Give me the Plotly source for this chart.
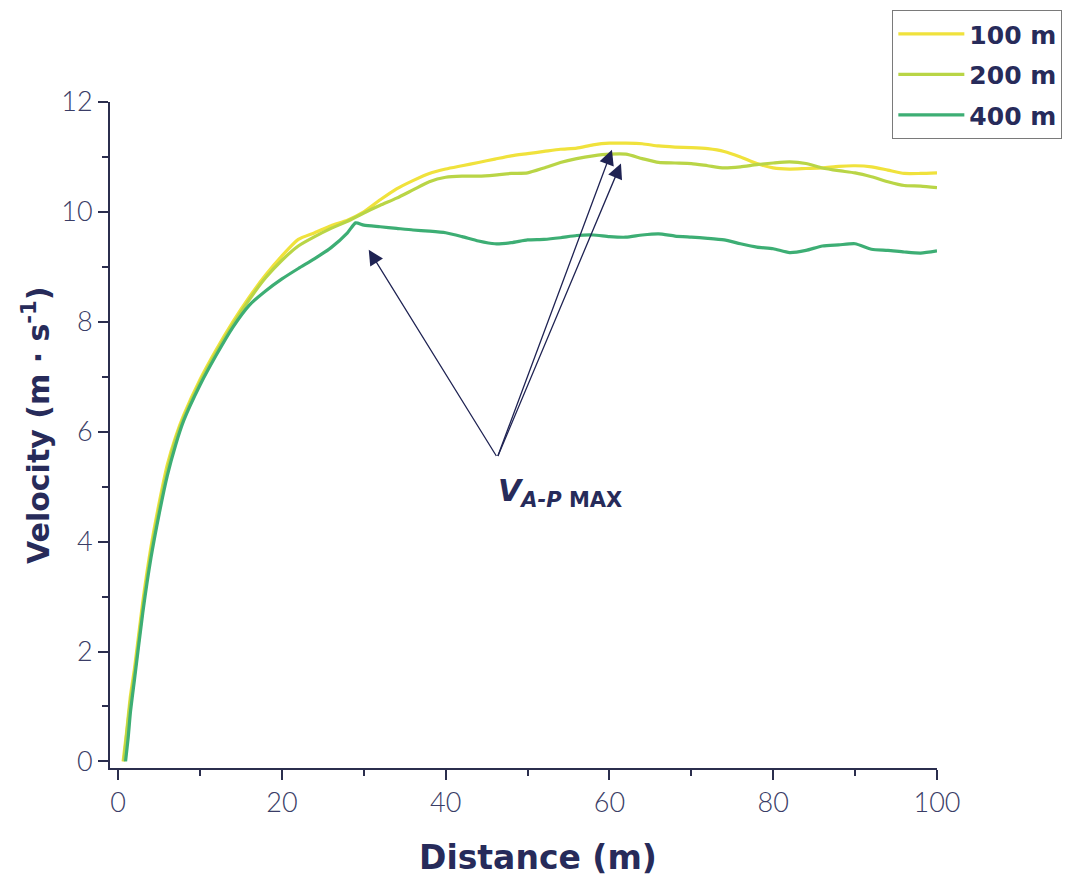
import plotly.graph_objects as go

# ---------------- data ----------------
dist_100 = [0.6, 1, 1.5, 2, 3, 4, 5, 6, 7, 8, 10, 12, 14, 16, 18, 20, 22, 24, 26, 28, 30,
            32, 34, 36, 38, 40, 42, 44, 46, 48, 50, 52, 54, 56, 58, 60, 62, 64, 66, 68, 70,
            72, 74, 76, 78, 80, 82, 84, 86, 88, 90, 92, 94, 96, 98, 100]
vel_100 = [0.0, 0.5, 1.2, 1.7, 2.9, 3.9, 4.7, 5.4, 5.9, 6.3, 6.95, 7.5, 8.0, 8.45, 8.85, 9.2,
           9.5, 9.62, 9.75, 9.85, 10.0, 10.22, 10.42, 10.57, 10.7, 10.78, 10.84, 10.9, 10.96,
           11.02, 11.06, 11.1, 11.14, 11.16, 11.22, 11.25, 11.25, 11.24, 11.2, 11.18, 11.17,
           11.15, 11.1, 11.0, 10.88, 10.8, 10.78, 10.79, 10.8, 10.83, 10.84, 10.82, 10.76,
           10.7, 10.7, 10.71]

dist_200 = [0.7, 1, 1.5, 2, 3, 4, 5, 6, 7, 8, 10, 12, 14, 16, 18, 20, 22, 24, 26, 28, 30,
            32, 34, 36, 38, 40, 42, 44, 46, 48, 50, 52, 54, 56, 58, 60, 62, 64, 66, 68, 70,
            72, 74, 76, 78, 80, 82, 84, 86, 88, 90, 92, 94, 96, 98, 100]
vel_200 = [0.0, 0.45, 1.1, 1.6, 2.8, 3.8, 4.6, 5.3, 5.85, 6.25, 6.9, 7.45, 7.95, 8.4, 8.8,
           9.12, 9.38, 9.55, 9.7, 9.83, 9.98, 10.12, 10.25, 10.4, 10.55, 10.63, 10.65, 10.65,
           10.67, 10.7, 10.71, 10.8, 10.9, 10.97, 11.02, 11.05, 11.05, 10.97, 10.9, 10.89,
           10.88, 10.84, 10.8, 10.82, 10.86, 10.89, 10.91, 10.88, 10.8, 10.75, 10.71, 10.64,
           10.55, 10.48, 10.47, 10.44]

dist_400 = [0.9, 1.2, 1.5, 2, 3, 4, 5, 6, 7, 8, 10, 12, 14, 16, 18, 20, 22, 24, 26, 28, 29,
            30, 32, 34, 36, 38, 40, 42, 44, 46, 48, 50, 52, 54, 56, 58, 60, 62, 64, 66, 68,
            70, 72, 74, 76, 78, 80, 82, 84, 86, 88, 90, 92, 94, 96, 98, 100]
vel_400 = [0.0, 0.4, 0.9, 1.5, 2.7, 3.7, 4.5, 5.2, 5.75, 6.2, 6.85, 7.4, 7.9, 8.3, 8.56,
           8.78, 8.97, 9.15, 9.35, 9.62, 9.8, 9.76, 9.73, 9.7, 9.67, 9.65, 9.62, 9.55, 9.47,
           9.42, 9.44, 9.49, 9.5, 9.53, 9.57, 9.58, 9.55, 9.54, 9.58, 9.6, 9.56, 9.54, 9.52,
           9.49, 9.42, 9.36, 9.33, 9.26, 9.3, 9.38, 9.4, 9.42, 9.32, 9.3, 9.27, 9.25, 9.29]

series_names = ["100 m", "200 m", "400 m"]
x_ticks = [0, 20, 40, 60, 80, 100]
y_ticks = [0, 2, 4, 6, 8, 10, 12]
x_title = "<b>Distance (m)</b>"
y_title = "<b>Velocity (m · s<sup>-1</sup>)</b>"

# arrow tail (shared) and heads, in data units
arrow_tail = (46.3, 5.53)
arrow_heads = [(30.6, 9.31), (60.3, 11.13), (61.4, 10.88)]

# ---------------- styling ----------------
colors = ["#F0E23C", "#B9D546", "#3DAE74"]
navy = "#272B5A"
axis_col = "#2B2E4E"
tick_font = "Lato, 'Open Sans', sans-serif"
bold_font = "'DejaVu Sans', Lato, sans-serif"

fig = go.Figure()
for name, xs, ys, c in zip(series_names, [dist_100, dist_200, dist_400],
                           [vel_100, vel_200, vel_400], colors):
    fig.add_trace(go.Scatter(x=xs, y=ys, name=name, mode="lines", legendgroup=name,
                             line=dict(color=c, width=3.2, shape="spline", smoothing=0.6)))

for hx, hy in arrow_heads:
    fig.add_annotation(x=hx, y=hy, ax=arrow_tail[0], ay=arrow_tail[1],
                       xref="x", yref="y", axref="x", ayref="y",
                       showarrow=True, arrowhead=2, arrowsize=2.3, arrowwidth=1.3,
                       arrowcolor="#1F2353", text="")

fig.add_annotation(x=arrow_tail[0] - 0.2, y=arrow_tail[1] - 0.25, xref="x", yref="y",
                   xanchor="left", yanchor="top", showarrow=False,
                   text="<b><i>V</i></b><sub><b><i>A-P</i> MAX</b></sub>",
                   font=dict(family=bold_font, size=30, color=navy))

# axis titles (placed as annotations to match the reference offsets)
fig.add_annotation(x=0.5175, y=-0.135, xref="paper", yref="paper",
                   xanchor="center", yanchor="middle", showarrow=False, text=x_title,
                   font=dict(family=bold_font, size=33, color=navy))
fig.add_annotation(x=-0.0895, y=0.515, xref="paper", yref="paper", textangle=-90,
                   xanchor="center", yanchor="middle", showarrow=False, text=y_title,
                   font=dict(family=bold_font, size=30, color=navy))

fig.update_layout(
    width=1067, height=869,
    margin=dict(l=102, r=138, t=94, b=109, autoexpand=False),
    paper_bgcolor="white", plot_bgcolor="white",
    font=dict(family=tick_font, color=navy),
    showlegend=True,
    legend=dict(x=0.946, y=1.138, xanchor="left", yanchor="top",
                bordercolor="#7A7A7A", borderwidth=1, bgcolor="white",
                font=dict(family=bold_font, size=25, color=navy, weight="bold"),
                itemwidth=66, traceorder="grouped", tracegroupgap=5),
    xaxis=dict(range=[-1, 100], tickvals=x_ticks, ticks="outside", ticklen=10, tickwidth=2,
               tickcolor=axis_col, showline=True, linecolor=axis_col, linewidth=2,
               showgrid=False, zeroline=False,
               tickfont=dict(family=tick_font, size=27, color="#3A3D66", weight=300),
               minor=dict(dtick=10, tick0=0, ticks="outside", ticklen=6, tickwidth=2,
                          tickcolor=axis_col, showgrid=False)),
    yaxis=dict(range=[-0.12, 12], tickvals=y_ticks, ticks="outside", ticklen=10, tickwidth=2,
               tickcolor=axis_col, showline=True, linecolor=axis_col, linewidth=2,
               showgrid=False, zeroline=False,
               tickfont=dict(family=tick_font, size=27, color="#3A3D66", weight=300),
               minor=dict(dtick=1, tick0=0, ticks="outside", ticklen=6, tickwidth=2,
                          tickcolor=axis_col, showgrid=False)),
)

fig.write_html("out.html")
